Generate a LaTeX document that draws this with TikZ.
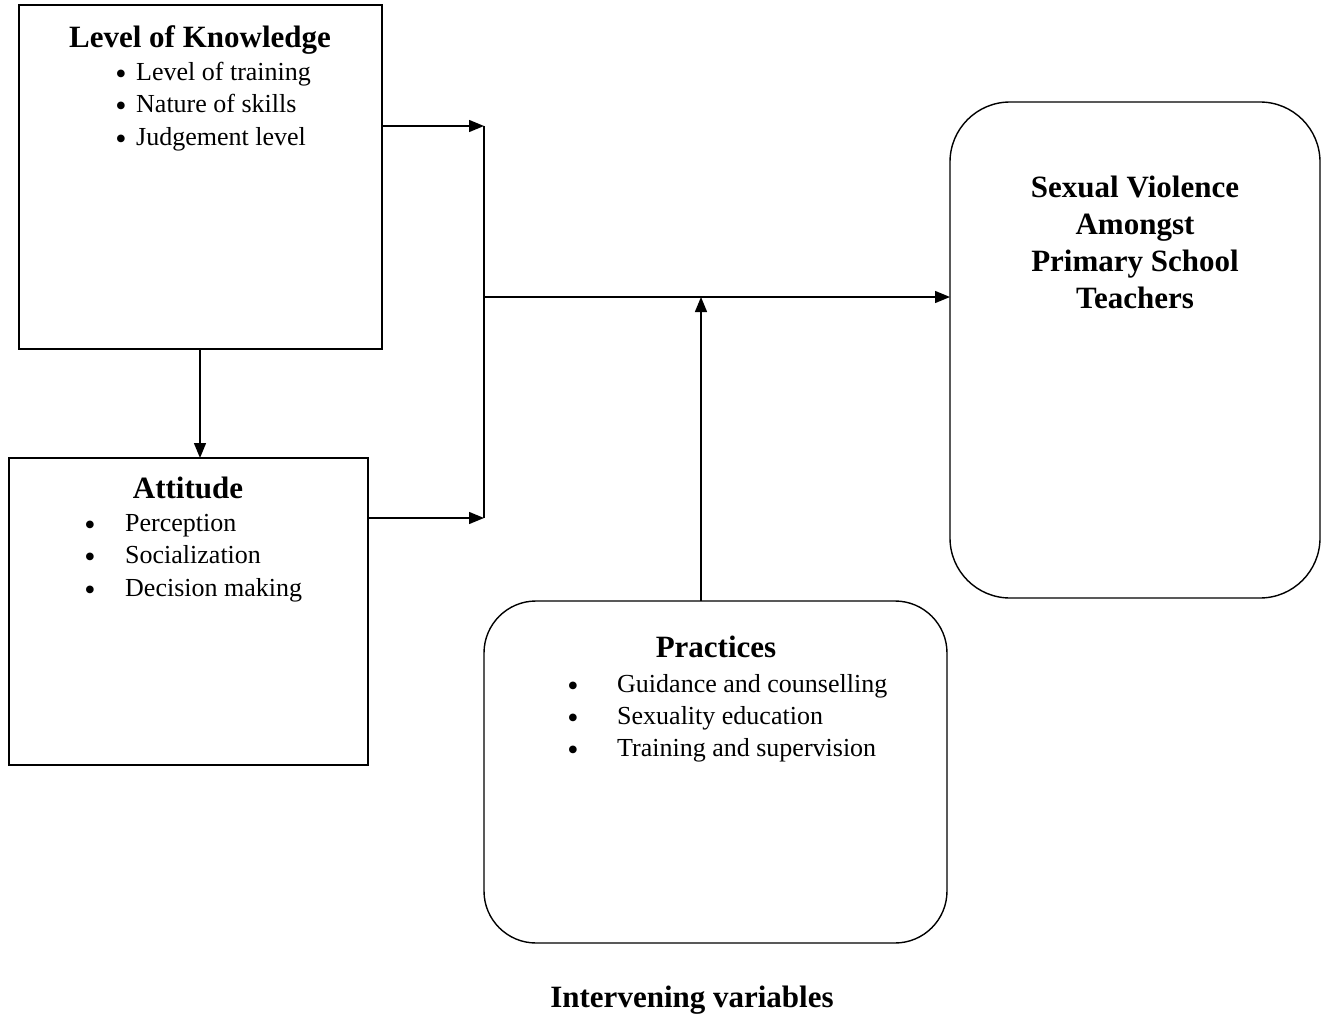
\documentclass[tikz,border=0pt]{standalone}
\usepackage{fontspec}
\setmainfont{Liberation Serif}
\usetikzlibrary{arrows.meta}
\begin{document}
\begin{tikzpicture}[x=1pt,y=-1pt,
  box/.style={draw,line width=1.4pt},
  rbox/.style={draw,line width=1.4pt,rounded corners=52pt},
  ttl/.style={font=\fontsize{31}{36}\selectfont\bfseries,anchor=mid},
  itm/.style={font=\fontsize{26}{30}\selectfont,anchor=mid west,inner sep=0pt},
  bul/.style={font=\fontsize{32}{30}\selectfont,anchor=mid,inner sep=0pt,yshift=-4pt},
  conn/.style={line width=1.4pt},
  arr/.style={line width=1.4pt,-{Triangle[length=15pt,width=12pt]}}]
\useasboundingbox (0,0) rectangle (1323,1014);
% boxes
\draw[box] (19,5) rectangle (382,349);
\draw[box] (9,458) rectangle (368,765);
\draw[rbox] (484,601) rectangle (947,943);
\draw[rbox,rounded corners=60pt] (950,102) rectangle (1320,598);
% knowledge
\node[ttl] (kt) at (200,45) {Level of Knowledge};
\node[bul] (kb1) at (121,78) {•};
\node[bul] (kb2) at (121,110) {•};
\node[bul] (kb3) at (121,143) {•};
\node[itm] (ki1) at (136,78) {Level of training};
\node[itm] (ki2) at (136,110) {Nature of skills};
\node[itm] (ki3) at (136,143) {Judgement level};
% attitude
\node[ttl] (at) at (188,496) {Attitude};
\node[bul] (ab1) at (90,529) {•};
\node[bul] (ab2) at (90,561) {•};
\node[bul] (ab3) at (90,594) {•};
\node[itm] (ai1) at (125,529) {Perception};
\node[itm] (ai2) at (125,561) {Socialization};
\node[itm] (ai3) at (125,594) {Decision making};
% practices
\node[ttl] (pt) at (716,655) {Practices};
\node[bul] (pb1) at (573,690) {•};
\node[bul] (pb2) at (573,722) {•};
\node[bul] (pb3) at (573,754) {•};
\node[itm] (pi1) at (617,690) {Guidance and counselling};
\node[itm] (pi2) at (617,722) {Sexuality education};
\node[itm] (pi3) at (617,754) {Training and supervision};
% outcome
\node[align=center,font=\fontsize{31}{37}\selectfont\bfseries,anchor=center] (st) at (1135,242)
  {Sexual Violence\\Amongst\\Primary School\\Teachers};
% label
\node[ttl] (iv) at (692,1005) {Intervening variables};
% connectors
\coordinate (kOut) at (382,126);
\coordinate (jTop) at (484,126);
\coordinate (aOut) at (368,518);
\coordinate (jBot) at (484,518);
\coordinate (jMid) at (484,297);
\coordinate (sIn) at (950,297);
\coordinate (pTop) at (701,601);
\coordinate (pJoin) at (701,297);
\coordinate (kBot) at (200,349);
\coordinate (aTop) at (200,458);
\draw[arr] (kOut) -- (jTop);
\draw[arr] (aOut) -- (jBot);
\draw[conn] (jTop) -- (jBot);
\draw[arr] (jMid) -- (sIn);
\draw[arr] (pTop) -- (pJoin);
\draw[arr] (kBot) -- (aTop);
\end{tikzpicture}
\end{document}
